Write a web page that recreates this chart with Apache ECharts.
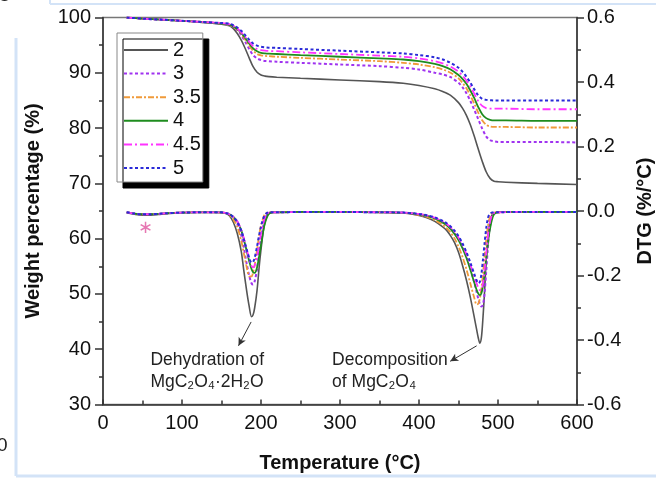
<!DOCTYPE html>
<html>
<head>
<meta charset="utf-8">
<script src="https://cdn.jsdelivr.net/npm/echarts@6/dist/echarts.min.js"></script>
<style>
html,body{margin:0;padding:0;background:#fff;}
#chart{width:656px;height:478px;}
</style>
</head>
<body>
<div id="chart"></div>
<script>
// ---- data ----
var seriesNames = ['2', '3', '3.5', '4', '4.5', '5'];
var xTicks = [0, 100, 200, 300, 400, 500, 600];
var leftTicks = [30, 40, 50, 60, 70, 80, 90, 100];
var rightTicks = [-0.6, -0.4, -0.2, 0.0, 0.2, 0.4, 0.6];

var tgaT = [30, 50, 75, 100, 125, 150, 160, 165, 170, 175, 180, 185, 190, 195, 200, 205, 210, 220, 250, 300, 350, 380, 400, 420, 430, 440, 450, 455, 460, 465, 470, 475, 480, 485, 490, 495, 500, 510, 550, 600];
var tga2  = [100.0, 99.8, 99.6, 99.4, 99.1, 98.8, 98.5, 98.0, 97.1, 95.9, 94.4, 92.7, 91.1, 90.1, 89.6, 89.4, 89.3, 89.2, 89.0, 88.7, 88.4, 88.1, 87.7, 87.1, 86.6, 85.9, 84.6, 83.6, 82.3, 80.6, 78.5, 76.2, 74.0, 72.1, 70.9, 70.4, 70.3, 70.2, 70.0, 69.8];
var tga3  = [100.0, 99.8, 99.6, 99.4, 99.2, 98.9, 98.6, 98.3, 97.7, 96.8, 95.6, 94.3, 93.2, 92.6, 92.3, 92.15, 92.1, 92.0, 91.8, 91.5, 91.2, 90.9, 90.6, 90.0, 89.7, 89.2, 88.2, 87.4, 86.3, 84.9, 83.3, 81.6, 79.9, 78.5, 77.8, 77.6, 77.5, 77.5, 77.5, 77.4];
var tga35 = [100.0, 99.8, 99.6, 99.4, 99.2, 98.9, 98.6, 98.3, 97.8, 97.0, 96.0, 94.9, 94.0, 93.4, 93.15, 93.05, 93.0, 92.9, 92.7, 92.4, 92.1, 91.8, 91.5, 91.0, 90.6, 90.0, 89.0, 88.2, 87.2, 85.9, 84.4, 82.8, 81.4, 80.6, 80.3, 80.2, 80.2, 80.2, 80.1, 80.1];
var tga4  = [100.0, 99.8, 99.6, 99.4, 99.2, 98.9, 98.7, 98.4, 97.9, 97.2, 96.3, 95.3, 94.4, 93.9, 93.6, 93.5, 93.45, 93.4, 93.2, 92.9, 92.6, 92.4, 92.1, 91.6, 91.2, 90.6, 89.6, 88.9, 88.0, 86.8, 85.4, 83.8, 82.5, 81.8, 81.5, 81.4, 81.4, 81.4, 81.3, 81.3];
var tga45 = [100.0, 99.8, 99.6, 99.4, 99.2, 99.0, 98.8, 98.5, 98.0, 97.3, 96.5, 95.6, 94.8, 94.3, 94.1, 94.0, 93.95, 93.9, 93.7, 93.4, 93.1, 92.9, 92.6, 92.1, 91.7, 91.1, 90.2, 89.5, 88.6, 87.5, 86.2, 84.9, 84.0, 83.6, 83.5, 83.5, 83.5, 83.5, 83.4, 83.4];
var tga5  = [100.0, 99.8, 99.6, 99.4, 99.2, 99.0, 98.9, 98.6, 98.2, 97.6, 96.8, 96.0, 95.3, 94.9, 94.7, 94.6, 94.55, 94.5, 94.3, 94.0, 93.7, 93.5, 93.2, 92.8, 92.4, 91.8, 90.9, 90.2, 89.3, 88.2, 87.0, 85.9, 85.3, 85.1, 85.05, 85.0, 85.0, 85.0, 85.0, 85.0];

var dtgT = [30,40,50,60,70,80,100,120,140,150,155,160,165,170,175,178,182,185,188,190,192,195,198,200,203,205,208,210,213,216,220,250,300,350,380,400,410,420,430,435,440,445,450,455,460,465,470,473,475,477,479,481,483,485,487,489,492,495,500,520,550,600];
var dtg2 = [-0.005,-0.010,-0.013,-0.013,-0.011,-0.008,-0.005,-0.004,-0.004,-0.005,
  -0.007,-0.015,-0.035,-0.070,-0.125,-0.180,-0.250,-0.295,-0.328,-0.322,
  -0.300,-0.246,-0.165,-0.120,-0.060,-0.035,-0.013,-0.007,-0.005,-0.004,
  -0.004,-0.003,-0.003,-0.004,-0.006,-0.014,-0.021,-0.032,-0.049,-0.060,
  -0.077,-0.098,-0.128,-0.168,-0.214,-0.268,-0.330,-0.368,-0.393,-0.410,
  -0.392,-0.330,-0.250,-0.155,-0.085,-0.042,-0.014,-0.006,-0.004,-0.003,-0.003,-0.003];
var dtg3 = [-0.004,-0.008,-0.010,-0.010,-0.009,-0.007,-0.005,-0.004,-0.004,-0.005,
  -0.006,-0.010,-0.020,-0.040,-0.075,-0.110,-0.165,-0.200,-0.224,-0.228,
  -0.218,-0.180,-0.120,-0.085,-0.045,-0.025,-0.010,-0.006,-0.004,-0.004,
  -0.004,-0.003,-0.003,-0.004,-0.005,-0.010,-0.015,-0.023,-0.035,-0.043,
  -0.054,-0.068,-0.086,-0.110,-0.140,-0.177,-0.222,-0.252,-0.272,-0.288,
  -0.296,-0.290,-0.255,-0.190,-0.120,-0.065,-0.020,-0.007,-0.004,-0.003,-0.003,-0.003];
var dtg35 = [-0.004,-0.008,-0.010,-0.010,-0.009,-0.007,-0.005,-0.004,-0.004,-0.005,
  -0.007,-0.013,-0.026,-0.050,-0.092,-0.128,-0.175,-0.202,-0.203,-0.190,
  -0.168,-0.120,-0.070,-0.045,-0.020,-0.010,-0.005,-0.004,-0.004,-0.004,
  -0.004,-0.003,-0.003,-0.004,-0.006,-0.012,-0.018,-0.028,-0.043,-0.053,
  -0.067,-0.085,-0.110,-0.142,-0.180,-0.225,-0.270,-0.290,-0.288,-0.272,
  -0.240,-0.195,-0.140,-0.090,-0.050,-0.025,-0.008,-0.004,-0.004,-0.003,-0.003,-0.003];
var dtg4 = [-0.004,-0.008,-0.010,-0.010,-0.009,-0.007,-0.005,-0.004,-0.004,-0.004,
  -0.006,-0.010,-0.018,-0.033,-0.060,-0.085,-0.125,-0.155,-0.180,-0.190,
  -0.192,-0.175,-0.135,-0.105,-0.060,-0.038,-0.017,-0.009,-0.005,-0.004,
  -0.004,-0.003,-0.003,-0.004,-0.005,-0.010,-0.015,-0.023,-0.036,-0.044,
  -0.056,-0.071,-0.090,-0.115,-0.145,-0.182,-0.222,-0.245,-0.256,-0.261,
  -0.255,-0.232,-0.195,-0.150,-0.105,-0.068,-0.030,-0.010,-0.004,-0.003,-0.003,-0.003];
var dtg45 = [-0.004,-0.008,-0.010,-0.010,-0.009,-0.007,-0.005,-0.004,-0.004,-0.004,
  -0.006,-0.010,-0.018,-0.032,-0.058,-0.082,-0.120,-0.148,-0.170,-0.175,
  -0.168,-0.140,-0.098,-0.070,-0.036,-0.020,-0.008,-0.005,-0.004,-0.004,
  -0.004,-0.003,-0.003,-0.004,-0.005,-0.009,-0.014,-0.021,-0.032,-0.040,
  -0.050,-0.064,-0.082,-0.105,-0.133,-0.166,-0.203,-0.225,-0.237,-0.245,
  -0.244,-0.225,-0.185,-0.135,-0.085,-0.045,-0.015,-0.006,-0.004,-0.003,-0.003,-0.003];
var dtg5 = [-0.004,-0.008,-0.010,-0.010,-0.009,-0.007,-0.005,-0.004,-0.004,-0.004,
  -0.006,-0.010,-0.019,-0.034,-0.060,-0.085,-0.120,-0.145,-0.160,-0.158,
  -0.145,-0.110,-0.070,-0.048,-0.022,-0.012,-0.005,-0.004,-0.004,-0.004,
  -0.004,-0.003,-0.003,-0.004,-0.005,-0.009,-0.013,-0.020,-0.031,-0.038,
  -0.048,-0.061,-0.078,-0.100,-0.127,-0.160,-0.196,-0.215,-0.224,-0.220,
  -0.195,-0.150,-0.100,-0.055,-0.025,-0.010,-0.005,-0.004,-0.004,-0.003,-0.003,-0.003];

// annotations (data coordinates: temperature, DTG)
var asteriskPoint = [54, -0.053];
var dehydArrow = [[187.5, -0.344], [171.5, -0.418]];
var decompArrow = [[473, -0.418], [439.5, -0.466]];
var dehydText = { coord: [60, -0.497], text: 'Dehydration of\nMgC\u2082O\u2084\u00b72H\u2082O' };
var decompText = { coord: [290, -0.497], text: 'Decomposition\nof MgC\u2082O\u2084' };

// ---- styles ----
var FONT = '"Liberation Sans", Arial, sans-serif';
var styles = [
  { color: '#555555', type: 'solid', width: 1.6 },
  { color: '#a033f0', type: [3, 2.5], width: 2 },
  { color: '#f09a3a', type: [6, 2, 2, 2], width: 1.8 },
  { color: '#1e8c1e', type: 'solid', width: 1.8 },
  { color: '#ff33ff', type: [8, 3, 2, 3], width: 1.8 },
  { color: '#2a2ad8', type: [3, 2.5], width: 2 }
];
var tgaVals = [tga2, tga3, tga35, tga4, tga45, tga5];
var dtgVals = [dtg2, dtg3, dtg35, dtg4, dtg45, dtg5];

function zip(xs, ys) { return xs.map(function (x, i) { return [x, ys[i]]; }); }

var series = [];
seriesNames.forEach(function (n, i) {
  series.push({
    name: n, type: 'line', xAxisIndex: 0, yAxisIndex: 0,
    data: zip(tgaT, tgaVals[i]), showSymbol: false, symbol: 'none', smooth: 0.3,
    lineStyle: styles[i], itemStyle: { color: styles[i].color }, z: 2 + i
  });
});
seriesNames.forEach(function (n, i) {
  var s = {
    name: n, type: 'line', xAxisIndex: 0, yAxisIndex: 1,
    data: zip(dtgT, dtgVals[i]), showSymbol: false, symbol: 'none', smooth: 0.3,
    lineStyle: styles[i], itemStyle: { color: styles[i].color }, z: 2 + i
  };
  if (i === 0) {
    s.markLine = {
      silent: true, symbol: ['none', 'arrow'], symbolSize: [6, 8],
      label: { show: false },
      lineStyle: { color: '#333', width: 1, type: 'solid' },
      data: [
        [{ coord: dehydArrow[0] }, { coord: dehydArrow[1] }],
        [{ coord: decompArrow[0] }, { coord: decompArrow[1] }]
      ]
    };
    s.markPoint = {
      silent: true, symbol: 'circle', symbolSize: 0,
      label: { show: true, position: 'right', distance: 0, color: '#222',
        fontSize: 17.5, fontFamily: FONT, lineHeight: 22, align: 'left' },
      data: [
        { coord: dehydText.coord, label: { formatter: dehydText.text } },
        { coord: decompText.coord, label: { formatter: decompText.text } }
      ]
    };
  }
  series.push(s);
});
series.push({
  name: 'asterisk', type: 'scatter', xAxisIndex: 0, yAxisIndex: 1,
  data: [asteriskPoint], symbolSize: 0, silent: true,
  label: { show: true, position: 'inside', formatter: '\u2217', color: '#e0559f',
    fontSize: 18, fontFamily: 'DejaVu Sans' }
});

var axisLbl = { fontSize: 20, color: '#111', fontFamily: FONT };
var nameStyle = { fontSize: 20, fontWeight: 'bold', color: '#111', fontFamily: FONT };

var option = {
  animation: false,
  backgroundColor: '#fff',
  grid: { left: 103, right: 79, top: 17.5, bottom: 73.5, show: true,
    outerBoundsMode: 'none', containLabel: false,
    borderColor: '#777', borderWidth: 1.5, backgroundColor: 'transparent' },
  legend: {
    data: seriesNames, orient: 'vertical', left: 117, top: 33,
    itemWidth: 44, itemHeight: 14, itemGap: 3.6,
    padding: [7, 2, 4, 6],
    backgroundColor: '#fff', borderColor: '#888', borderWidth: 1,
    shadowColor: '#000', shadowBlur: 0, shadowOffsetX: 6, shadowOffsetY: 6,
    itemStyle: { opacity: 0 },
    textStyle: { fontSize: 20, color: '#111', fontFamily: FONT },
    selectedMode: false
  },
  xAxis: [{
    type: 'value', min: xTicks[0], max: xTicks[xTicks.length - 1], interval: 100,
    name: 'Temperature (\u00b0C)', nameLocation: 'middle', nameGap: 49, nameTextStyle: nameStyle,
    axisLine: { onZero: false, lineStyle: { color: '#333', width: 1.5 } },
    axisTick: { inside: true, length: 5, lineStyle: { color: '#333', width: 1.5 } },
    minorTick: { show: true, splitNumber: 2, length: 4, lineStyle: { color: '#333', width: 1.5 } },
    axisLabel: Object.assign({ margin: 9 }, axisLbl),
    splitLine: { show: false }
  }],
  yAxis: [{
    type: 'value', min: leftTicks[0], max: leftTicks[leftTicks.length - 1], interval: 10,
    position: 'left',
    name: 'Weight percentage (%)', nameLocation: 'middle', nameGap: 60, nameTextStyle: nameStyle,
    axisLine: { show: true, onZero: false, lineStyle: { color: '#333', width: 1.5 } },
    axisTick: { inside: false, length: 8, lineStyle: { color: '#333', width: 1.5 } },
    minorTick: { show: true, splitNumber: 2, length: 4, lineStyle: { color: '#333', width: 1.5 } },
    axisLabel: Object.assign({ margin: 12 }, axisLbl),
    splitLine: { show: false }
  }, {
    type: 'value', min: rightTicks[0], max: rightTicks[rightTicks.length - 1], interval: 0.2,
    position: 'right',
    name: 'DTG (%/\u00b0C)', nameLocation: 'middle', nameGap: 58, nameTextStyle: nameStyle,
    axisLine: { show: true, onZero: false, lineStyle: { color: '#333', width: 1.5 } },
    axisTick: { inside: false, length: 7, lineStyle: { color: '#333', width: 1.5 } },
    minorTick: { show: true, splitNumber: 2, length: 4, lineStyle: { color: '#333', width: 1.5 } },
    axisLabel: Object.assign({ margin: 10, formatter: function (v) {
      return (Math.abs(v) < 1e-9 ? 0 : v).toFixed(1); } }, axisLbl),
    splitLine: { show: false }
  }],
  graphic: [
    { type: 'line', silent: true, shape: { x1: 16, y1: 38, x2: 16, y2: 476 }, style: { stroke: '#d3e3f7', lineWidth: 3 } },
    { type: 'line', silent: true, shape: { x1: 16, y1: 476, x2: 656, y2: 476 }, style: { stroke: '#d3e3f7', lineWidth: 3 } },
    { type: 'line', silent: true, shape: { x1: 50, y1: 4, x2: 656, y2: 4 }, style: { stroke: '#d3e3f7', lineWidth: 2 } },
    { type: 'line', silent: true, shape: { x1: 50, y1: 0, x2: 50, y2: 4 }, style: { stroke: '#d3e3f7', lineWidth: 2 } },
    { type: 'text', silent: true, left: -3, top: 436, style: { text: '0', fontSize: 19, fill: '#222', fontFamily: FONT } },
    { type: 'text', silent: true, left: -2, top: -12, style: { text: 'C', fontSize: 17, fill: '#222', fontFamily: FONT } }
  ],
  series: series
};

var chart = echarts.init(document.getElementById('chart'), null, { renderer: 'canvas' });
chart.setOption(option);
</script>
</body>
</html>
